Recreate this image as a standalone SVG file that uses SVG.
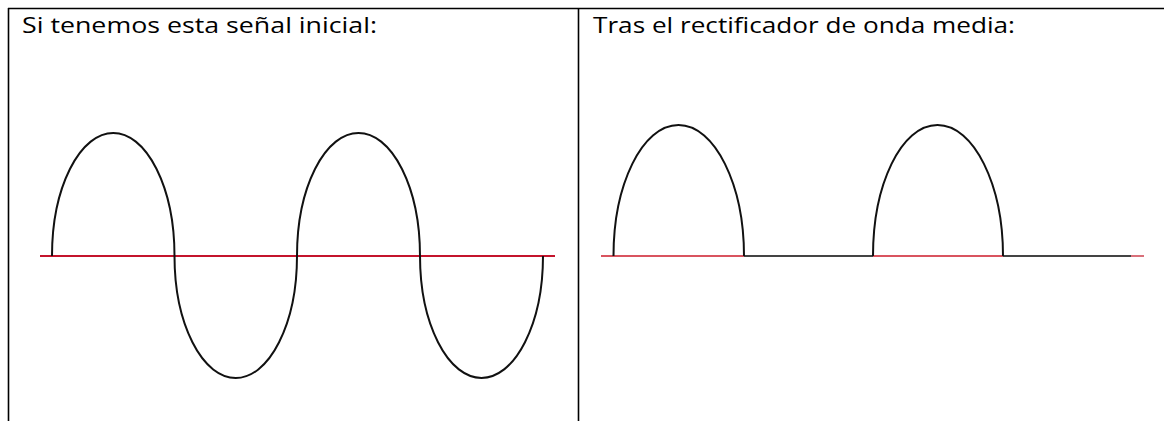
<svg xmlns="http://www.w3.org/2000/svg" width="1164" height="421" viewBox="0 0 1164 421">
<style>
.lbl{font-family:"Open Sans","Liberation Sans",sans-serif;font-size:22px;fill:#000}
.border{stroke:#000;stroke-width:1.6;fill:none}
.wave{stroke:#111;stroke-width:2;fill:none}
.axis{stroke-width:2;fill:none}
</style>
<rect width="1164" height="421" fill="#fff"/>
<g id="table">
<line class="border" x1="8" y1="8.5" x2="1164" y2="8.5"/>
<line class="border" x1="8.5" y1="8" x2="8.5" y2="421"/>
<line class="border" x1="578.5" y1="8" x2="578.5" y2="421"/>
</g>
<g id="left-panel">
<text class="lbl" x="22" y="33" textLength="355" lengthAdjust="spacingAndGlyphs">Si tenemos esta señal inicial:</text>
<line class="axis" x1="40" y1="256" x2="555" y2="256" stroke="#c4142c"/>
<path class="wave" d="M52,256 A61.25,123 0 0 1 174.5,256 A61.25,122 0 0 0 297,256 A61.5,123 0 0 1 420,256 A61.5,122 0 0 0 543,256"/>
</g>
<g id="right-panel">
<text class="lbl" x="593" y="33" textLength="422" lengthAdjust="spacingAndGlyphs">Tras el rectificador de onda media:</text>
<line class="axis" x1="601" y1="256" x2="744" y2="256" stroke="#d9545f"/>
<line class="axis" x1="744" y1="256" x2="873" y2="256" stroke="#444"/>
<line class="axis" x1="873" y1="256" x2="1003" y2="256" stroke="#d9545f"/>
<line class="axis" x1="1003" y1="256" x2="1131" y2="256" stroke="#444"/>
<line class="axis" x1="1131" y1="256" x2="1144" y2="256" stroke="#d9707a"/>
<path class="wave" d="M613.5,256 C613.5,185 642,125 678.5,125 C715,125 744,185 744,256"/>
<path class="wave" d="M873,256 C873,185 901,125 937.5,125 C974,125 1003,185 1003,256"/>
</g>
</svg>
